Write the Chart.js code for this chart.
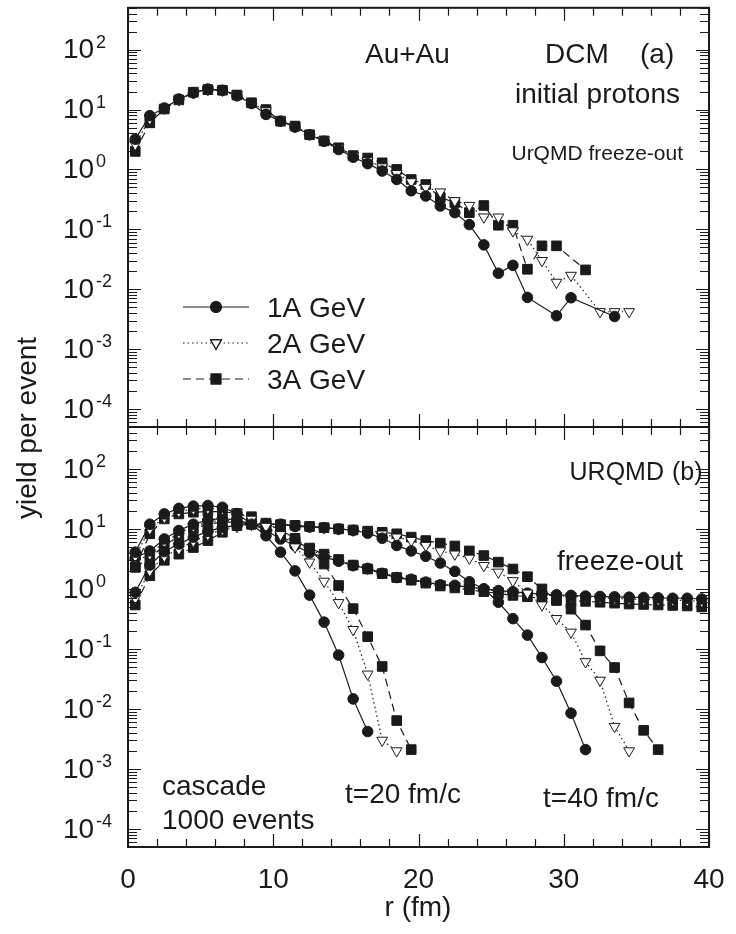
<!DOCTYPE html>
<html>
<head>
<meta charset="utf-8">
<script src="https://cdn.jsdelivr.net/npm/chart.js@4.4.1/dist/chart.umd.min.js"></script>
<style>
  html, body { margin: 0; padding: 0; background: #fff; }
  #wrap { position: relative; width: 736px; height: 934px; }
  canvas { position: absolute; left: 0; top: 0; }
</style>
</head>
<body>
<div id="wrap">
  <canvas id="topChart" width="736" height="934"></canvas>
  <canvas id="botChart" width="736" height="934"></canvas>
</div>
<script>
// radial bins (fm)
const rBins = [0.5, 1.5, 2.5, 3.5, 4.5, 5.5, 6.5, 7.5, 8.5, 9.5,
  10.5, 11.5, 12.5, 13.5, 14.5, 15.5, 16.5, 17.5, 18.5, 19.5,
  20.5, 21.5, 22.5, 23.5, 24.5, 25.5, 26.5, 27.5, 28.5, 29.5,
  30.5, 31.5, 32.5, 33.5, 34.5, 35.5, 36.5, 37.5, 38.5, 39.5];

// (a) DCM initial protons -- some bins are empty, so r is listed per series
const topR1 = [0.5, 1.5, 2.5, 3.5, 4.5, 5.5, 6.5, 7.5, 8.5, 9.5, 10.5, 11.5, 12.5, 13.5,
  14.5, 15.5, 16.5, 17.5, 18.5, 19.5, 20.5, 21.5, 22.5, 23.5, 24.5, 25.5, 26.5, 27.5,
  29.5, 30.5, 33.5];
const top1 = [3.2, 7.9, 10.6, 15, 19, 22, 21, 17, 12.6, 8.3, 6.4, 5.1, 3.8, 2.95,
  2.15, 1.6, 1.25, 0.94, 0.68, 0.44, 0.36, 0.245, 0.19, 0.12, 0.055, 0.0185, 0.025, 0.0073,
  0.0036, 0.0072, 0.0035];
const topR2 = [0.5, 1.5, 2.5, 3.5, 4.5, 5.5, 6.5, 7.5, 8.5, 9.5, 10.5, 11.5, 12.5, 13.5,
  14.5, 15.5, 16.5, 17.5, 18.5, 19.5, 20.5, 21.5, 22.5, 23.5, 24.5, 25.5, 26.5, 27.5,
  28.5, 29.5, 30.5, 32.5, 33.5, 34.5];
const top2 = [2.6, 7.0, 10.5, 14.5, 19, 21.5, 21, 17.5, 13, 9.5, 6.6, 5.2, 3.9, 3.1,
  2.3, 1.7, 1.4, 1.1, 0.85, 0.62, 0.5, 0.42, 0.3, 0.25, 0.16, 0.16, 0.094, 0.068,
  0.03, 0.013, 0.017, 0.0042, 0.0042, 0.0042];
const topR3 = [0.5, 1.5, 2.5, 3.5, 4.5, 5.5, 6.5, 7.5, 8.5, 9.5, 10.5, 11.5, 12.5, 13.5,
  14.5, 15.5, 16.5, 17.5, 18.5, 19.5, 20.5, 21.5, 22.5, 23.5, 24.5, 25.5, 26.5, 27.5,
  28.5, 29.5, 31.5];
const top3 = [2.0, 6.0, 10.2, 14.5, 19.5, 21.5, 21, 17.5, 13, 10, 6.4, 5.3, 3.8, 3.0,
  2.3, 1.7, 1.55, 1.29, 1.0, 0.68, 0.56, 0.34, 0.28, 0.19, 0.25, 0.117, 0.117, 0.0215,
  0.053, 0.053, 0.021];

// (b) URQMD cascade, t = 20 fm/c
const t20A1 = [4.1, 12, 17.8, 22, 24, 24.5, 23, 18, 12, 7.7, 4.1, 2.0, 0.79, 0.28, 0.079, 0.0147, 0.0042];
const t20A2 = [3.5, 10, 15.5, 19.5, 21.5, 22, 21.5, 19, 14.5, 11, 8, 5, 2.8, 1.34, 0.59, 0.21, 0.038, 0.003, 0.002];
const t20A3 = [2.3, 8.3, 14.7, 17.8, 19, 19.5, 19.5, 18, 16, 12.5, 9.5, 7, 4.6, 2.6, 1.14, 0.47, 0.16, 0.051, 0.0064, 0.0021];
// t = 40 fm/c
const t40A1 = [0.88, 2.5, 4.2, 5.6, 7.3, 9.1, 10.6, 11.5, 12, 12, 12, 11, 10.8, 10.5, 10, 9.5,
  8.5, 7, 5.3, 4.3, 3.5, 2.7, 1.96, 1.32, 1.0, 0.6, 0.32, 0.17, 0.072, 0.029, 0.0085, 0.0021];
const t40A2 = [0.7, 2.0, 3.5, 4.6, 6.2, 8, 9.8, 11, 11.8, 12, 12, 11.5, 11, 10.5, 10, 9.5, 9,
  8.2, 7.3, 6.4, 5.3, 4.3, 3.8, 3.25, 2.45, 1.9, 1.37, 0.85, 0.54, 0.32, 0.19, 0.061, 0.03,
  0.0051, 0.002];
const t40A3 = [0.54, 1.66, 3.0, 3.8, 4.9, 6.4, 8.8, 11.3, 12, 12, 11.8, 11.5, 11, 10.5, 10,
  9.6, 9.2, 8.8, 8.3, 7.3, 6.4, 5.8, 5.2, 4.3, 3.6, 2.8, 2.15, 1.6, 1.0, 0.64, 0.46, 0.25,
  0.093, 0.049, 0.0126, 0.0044, 0.0021];
// freeze-out
const foA1 = [3.3, 4.3, 6.8, 9.4, 12, 14, 15, 14, 12, 9.5, 6.8, 5.3, 4.0, 3.4, 2.9, 2.45,
  2.2, 1.82, 1.55, 1.45, 1.3, 1.17, 1.15, 1.07, 1.0, 0.94, 0.9, 0.85, 0.82, 0.8, 0.78, 0.76,
  0.75, 0.74, 0.73, 0.72, 0.71, 0.7, 0.7, 0.68];
const foA2 = [2.8, 3.8, 6, 8.5, 11, 13, 14, 13.5, 12, 10, 7.5, 5.8, 4.5, 3.6, 3.0, 2.5,
  2.2, 1.85, 1.6, 1.45, 1.3, 1.2, 1.12, 1.05, 0.98, 0.92, 0.87, 0.83, 0.8, 0.77, 0.75, 0.73,
  0.71, 0.7, 0.68, 0.67, 0.66, 0.65, 0.64, 0.62];
const foA3 = [2.3, 3.3, 5.3, 7.6, 10, 12, 13, 13, 12, 10.5, 8, 6.2, 4.8, 3.8, 3.1, 2.5,
  2.15, 1.8, 1.55, 1.4, 1.25, 1.12, 1.04, 0.97, 0.9, 0.84, 0.78, 0.74, 0.7, 0.67, 0.64, 0.62,
  0.6, 0.58, 0.56, 0.55, 0.54, 0.53, 0.52, 0.5];

const xTicks = [0, 10, 20, 30, 40];
const yExp = [-4, -3, -2, -1, 0, 1, 2];
const legendLabels = ["1A GeV", "2A GeV", "3A GeV"];

const FONT = '"Liberation Sans", Arial, sans-serif';
const INK = "#1a1a1a";

const zip = (rs, vs) => vs.map((v, i) => ({ x: rs[i], y: v }));

const styles = [
  { borderDash: [], pointStyle: "circle", pointRadius: 5.3, pointBackgroundColor: INK, pointRotation: 0 },
  { borderDash: [1.5, 3], pointStyle: "triangle", pointRadius: 6.2, pointBackgroundColor: "#fff", pointRotation: 180 },
  { borderDash: [8, 5], pointStyle: "rect", pointRadius: 6.8, pointBackgroundColor: INK, pointRotation: 0 },
];

function ds(points, k) {
  return Object.assign({
    data: points,
    borderColor: INK,
    borderWidth: 1.2,
    pointBorderColor: INK,
    pointBorderWidth: 1,
    pointHoverRadius: 0,
    tension: 0,
    fill: false,
  }, styles[k]);
}

function drawFrame(chart) {
  const { ctx, chartArea: a, scales: { x, y } } = chart;
  ctx.save();
  ctx.strokeStyle = INK;
  ctx.lineWidth = 1.2;
  ctx.beginPath();
  for (let v = 0; v <= 40; v += 2) {
    const px = Math.round(x.getPixelForValue(v)) + 0.5;
    const len = v % 10 === 0 ? 13 : 8;
    ctx.moveTo(px, a.bottom); ctx.lineTo(px, a.bottom - len);
    ctx.moveTo(px, a.top); ctx.lineTo(px, a.top + len);
  }
  for (let e = -5; e <= 2; e++) {
    for (let m = 1; m <= 9; m++) {
      const v = m * Math.pow(10, e);
      if (v < y.min * 0.999 || v > y.max * 1.001) continue;
      const py = Math.round(y.getPixelForValue(v)) + 0.5;
      const len = m === 1 ? 13 : 9;
      ctx.moveTo(a.left, py); ctx.lineTo(a.left + len, py);
      ctx.moveTo(a.right, py); ctx.lineTo(a.right - len, py);
    }
  }
  ctx.stroke();
  ctx.lineWidth = 2;
  ctx.strokeRect(a.left, a.top, a.right - a.left, a.bottom - a.top);

  // decade labels 10^n
  ctx.fillStyle = INK;
  ctx.textAlign = "left";
  ctx.textBaseline = "middle";
  yExp.forEach(e => {
    const py = y.getPixelForValue(Math.pow(10, e));
    ctx.font = "28px " + FONT;
    ctx.fillText("10", 63, py + 1);
    ctx.font = "18px " + FONT;
    ctx.fillText(String(e), 96, py - 7);
  });
  ctx.restore();
}

function text(ctx, s, x, y, size, align) {
  ctx.font = size + "px " + FONT;
  ctx.textAlign = align || "left";
  ctx.fillText(s, x, y);
}

const topLabels = {
  id: "topLabels",
  afterDatasetsDraw(chart) {
    drawFrame(chart);
    const ctx = chart.ctx;
    ctx.save();
    ctx.fillStyle = INK;
    ctx.textBaseline = "alphabetic";
    text(ctx, "Au+Au", 365, 63, 28);
    text(ctx, "DCM", 545, 63, 28);
    text(ctx, "(a)", 640, 63, 28);
    text(ctx, "initial protons", 680, 103, 28, "right");
    text(ctx, "UrQMD freeze-out", 683, 160, 21, "right");
    // legend
    legendLabels.forEach((lab, k) => {
      const ly = 307 + k * 36;
      const st = styles[k];
      ctx.strokeStyle = INK;
      ctx.lineWidth = 1.2;
      ctx.setLineDash(st.borderDash);
      ctx.beginPath();
      ctx.moveTo(183, ly); ctx.lineTo(249, ly);
      ctx.stroke();
      ctx.setLineDash([]);
      Chart.helpers.drawPoint(ctx, {
        pointStyle: st.pointStyle, radius: st.pointRadius, rotation: st.pointRotation, borderWidth: 1,
      }, 216, ly);
      ctx.fillStyle = st.pointBackgroundColor;
      ctx.fill();
      ctx.stroke();
      ctx.fillStyle = INK;
      text(ctx, lab, 267, ly + 10, 28);
    });
    ctx.restore();
  },
};

const botLabels = {
  id: "botLabels",
  afterDatasetsDraw(chart) {
    drawFrame(chart);
    const { ctx, scales: { x } } = chart;
    ctx.save();
    ctx.fillStyle = INK;
    ctx.textBaseline = "alphabetic";
    text(ctx, "URQMD", 664, 480, 25, "right");
    text(ctx, "(b)", 672, 480, 25);
    text(ctx, "freeze-out", 557, 570, 28);
    text(ctx, "cascade", 162, 795, 28);
    text(ctx, "1000 events", 162, 829, 28);
    text(ctx, "t=20 fm/c", 345, 803, 28);
    text(ctx, "t=40 fm/c", 543, 807, 28);
    xTicks.forEach(v => text(ctx, String(v), x.getPixelForValue(v), 888, 28, "center"));
    text(ctx, "r (fm)", 418, 916, 28, "center");
    ctx.translate(36, 428);
    ctx.rotate(-Math.PI / 2);
    text(ctx, "yield per event", 0, 0, 28, "center");
    ctx.restore();
  },
};

function makeChart(id, datasets, padding, plugin) {
  return new Chart(document.getElementById(id), {
    type: "line",
    data: { datasets },
    options: {
      responsive: false,
      animation: false,
      devicePixelRatio: 1,
      layout: { padding },
      plugins: { legend: { display: false }, tooltip: { enabled: false } },
      events: [],
      scales: {
        x: { type: "linear", min: 0, max: 40, display: false },
        y: { type: "logarithmic", min: 5e-5, max: 500, display: false },
      },
    },
    plugins: [plugin],
  });
}

makeChart("topChart", [
  ds(zip(topR1, top1), 0),
  ds(zip(topR2, top2), 1),
  ds(zip(topR3, top3), 2),
], { left: 128, right: 27, top: 7, bottom: 507 }, topLabels);

makeChart("botChart", [
  ds(zip(rBins, t20A1), 0),
  ds(zip(rBins, t20A2), 1),
  ds(zip(rBins, t20A3), 2),
  ds(zip(rBins, t40A1), 0),
  ds(zip(rBins, t40A2), 1),
  ds(zip(rBins, t40A3), 2),
  ds(zip(rBins, foA1), 0),
  ds(zip(rBins, foA2), 1),
  ds(zip(rBins, foA3), 2),
], { left: 128, right: 27, top: 427, bottom: 87 }, botLabels);
</script>
</body>
</html>
